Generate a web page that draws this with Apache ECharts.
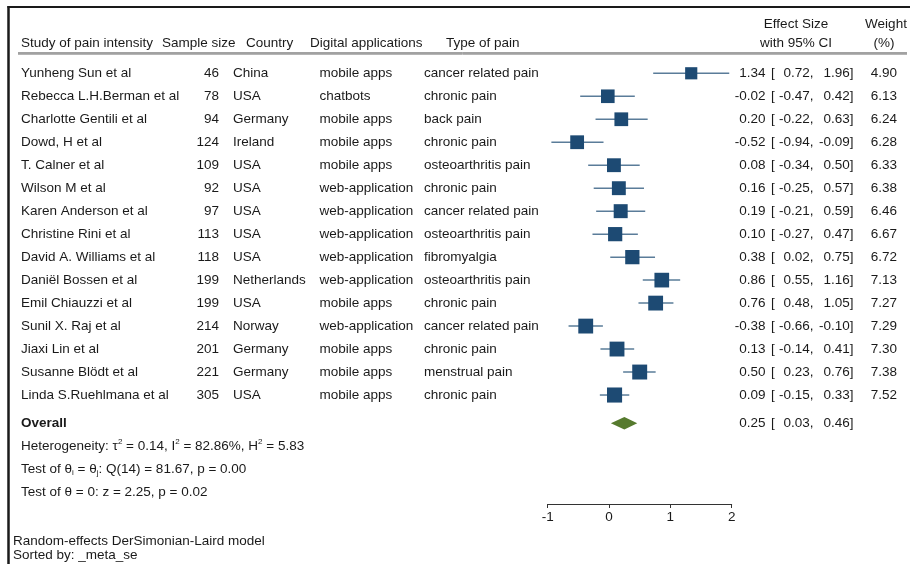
<!DOCTYPE html>
<html><head><meta charset="utf-8">
<script src="https://cdn.jsdelivr.net/npm/echarts@6/dist/echarts.min.js"></script>
<style>html,body{margin:0;padding:0;background:#fff}#c{width:910px;height:564px}</style>
</head><body><div id="c"></div>
<script>
// ---------- data ----------
const studies = ['Yunheng Sun et al','Rebecca L.H.Berman et al','Charlotte Gentili et al','Dowd, H et al','T. Calner et al','Wilson M et al','Karen Anderson et al','Christine Rini et al','David A. Williams et al','Daniël Bossen et al','Emil Chiauzzi et al','Sunil X. Raj et al','Jiaxi Lin et al','Susanne Blödt et al','Linda S.Ruehlmana et al'];
const sampleSizes = [46,78,94,124,109,92,97,113,118,199,199,214,201,221,305];
const countries = ['China','USA','Germany','Ireland','USA','USA','USA','USA','USA','Netherlands','USA','Norway','Germany','Germany','USA'];
const apps = ['mobile apps','chatbots','mobile apps','mobile apps','mobile apps','web-application','web-application','web-application','web-application','web-application','mobile apps','web-application','mobile apps','mobile apps','mobile apps'];
const painTypes = ['cancer related pain','chronic pain','back pain','chronic pain','osteoarthritis pain','chronic pain','cancer related pain','osteoarthritis pain','fibromyalgia','osteoarthritis pain','chronic pain','cancer related pain','chronic pain','menstrual pain','chronic pain'];
const effects = [1.34,-0.02,0.20,-0.52,0.08,0.16,0.19,0.10,0.38,0.86,0.76,-0.38,0.13,0.50,0.09];
const lowers  = [0.72,-0.47,-0.22,-0.94,-0.34,-0.25,-0.21,-0.27,0.02,0.55,0.48,-0.66,-0.14,0.23,-0.15];
const uppers  = [1.96,0.42,0.63,-0.09,0.50,0.57,0.59,0.47,0.75,1.16,1.05,-0.10,0.41,0.76,0.33];
const weights = [4.90,6.13,6.24,6.28,6.33,6.38,6.46,6.67,6.72,7.13,7.27,7.29,7.30,7.38,7.52];
const overallEst = 0.25, overallLow = 0.03, overallHigh = 0.46;
const xTicks = [-1, 0, 1, 2];
const headers = ['Study of pain intensity','Sample size','Country','Digital applications','Type of pain'];
const hetText = {tau2:'0.14', i2:'82.86%', h2:'5.83'};
const qText = {df:14, q:'81.67', p:'0.00'};
const zText = {z:'2.25', p:'0.02'};
const modelNote = 'Random-effects DerSimonian-Laird model';
const sortNote = 'Sorted by: _meta_se';

// ---------- layout / style ----------
const FONT = '"Liberation Sans", Arial, Helvetica, sans-serif';
const FS = 13.5;
const TXT = '#1a1a1a';
const SQ = '#1d4a73', CI = '#5a7c99', DIA = '#567a2e';
const OVERALL_ROW = 16.23;
const FOOT_ROWS = [17.23, 18.23, 19.24];
const COL = {name:21, size:219, country:233, app:319.5, pain:424, est:765.5, br:771, low:813.5, up:853.5, w:897};

const fmt = v => v.toFixed(2);
function t(x, y, text, align, extra) {
  return {type:'text', style:Object.assign({x, y, text, fill:TXT, font: FS + 'px ' + FONT, align:align||'left', verticalAlign:'middle'}, extra||{})};
}
function ciTexts(y, e, lo, hi) {
  return [t(COL.est, y, fmt(e), 'right'), t(COL.br, y, '[', 'left'), t(COL.low, y, fmt(lo) + ',', 'right'), t(COL.up, y, fmt(hi) + ']', 'right')];
}

const forestData = effects.map((e, i) => [e, i + 1, lowers[i], uppers[i], weights[i]]);

const chart = echarts.init(document.getElementById('c'));
const option = {
  animation:false,
  backgroundColor:'#fff',
  grid:{left:547.7, right:178.3, top:50.3, bottom:60},
  xAxis:{type:'value', position:'bottom', min:xTicks[0], max:xTicks[xTicks.length-1], interval:1,
    axisLine:{show:true, onZero:false, lineStyle:{color:'#333', width:1}},
    axisTick:{show:true, length:4, lineStyle:{color:'#333'}},
    axisLabel:{fontSize:FS, color:TXT, fontFamily:FONT, margin:6},
    splitLine:{show:false}},
  yAxis:{type:'value', inverse:true, min:0, max:19.742, show:false},
  series:[
    { // study rows: CI line, square, table text
      type:'custom', encode:{x:0, y:1}, data:forestData, clip:false,
      renderItem(params, api){
        const i = params.dataIndex;
        const row = api.value(1);
        const pe = api.coord([api.value(0), row]);
        const pl = api.coord([api.value(2), row]);
        const ph = api.coord([api.value(3), row]);
        const y = pe[1];
        const s = 5.5 * Math.sqrt(api.value(4));
        const children = [
          {type:'line', shape:{x1:pl[0], y1:y, x2:ph[0], y2:y}, style:{stroke:CI, lineWidth:1.5}},
          {type:'rect', shape:{x:pe[0]-s/2, y:y-s/2, width:s, height:s}, style:{fill:SQ}},
          t(COL.name, y, studies[i]),
          t(COL.size, y, String(sampleSizes[i]), 'right'),
          t(COL.country, y, countries[i]),
          t(COL.app, y, apps[i]),
          t(COL.pain, y, painTypes[i]),
          t(COL.w, y, weights[i].toFixed(2), 'right')
        ].concat(ciTexts(y, effects[i], lowers[i], uppers[i]));
        return {type:'group', children};
      }
    },
    { // overall diamond
      type:'custom', encode:{x:0, y:1}, data:[[overallEst, OVERALL_ROW, overallLow, overallHigh]], clip:false,
      renderItem(params, api){
        const row = api.value(1);
        const pe = api.coord([api.value(0), row]);
        const pl = api.coord([api.value(2), row]);
        const ph = api.coord([api.value(3), row]);
        const y = pe[1], h = 6.3;
        return {type:'group', children:[
          {type:'polygon', shape:{points:[[pl[0], y],[pe[0], y-h],[ph[0], y],[pe[0], y+h]]}, style:{fill:DIA}},
          t(COL.name, y, 'Overall', 'left', {font:'bold ' + FS + 'px ' + FONT})
        ].concat(ciTexts(y, overallEst, overallLow, overallHigh))};
      }
    },
    { // footer statistics
      type:'custom', encode:{x:0, y:1}, data:FOOT_ROWS.map(r => [0, r]), clip:false,
      renderItem(params, api){
        const y = api.coord([0, api.value(1)])[1];
        const rich = {
          a:{fontSize:FS, fontFamily:FONT, fill:TXT, verticalAlign:'middle', lineHeight:16},
          p:{fontSize:8, fontFamily:FONT, fill:TXT, verticalAlign:'top', lineHeight:16},
          b:{fontSize:8, fontFamily:FONT, fill:TXT, verticalAlign:'bottom', lineHeight:16}
        };
        let txt;
        if (params.dataIndex === 0) {
          txt = '{a|Heterogeneity: τ}{p|2}{a| = ' + hetText.tau2 + ', I}{p|2}{a| = ' + hetText.i2 + ', H}{p|2}{a| = ' + hetText.h2 + '}';
        } else if (params.dataIndex === 1) {
          txt = '{a|Test of θ}{b|i}{a| = θ}{b|j}{a|: Q(' + qText.df + ') = ' + qText.q + ', p = ' + qText.p + '}';
        } else {
          txt = '{a|Test of θ = 0: z = ' + zText.z + ', p = ' + zText.p + '}';
        }
        return {type:'text', style:{x:COL.name, y, text:txt, rich, align:'left', verticalAlign:'middle', fill:TXT, font:FS + 'px ' + FONT}};
      }
    }
  ],
  graphic:[
    {type:'line', shape:{x1:8.5, y1:6, x2:8.5, y2:564}, style:{stroke:'#1a1a1a', lineWidth:2.5}},
    {type:'line', shape:{x1:7.5, y1:7, x2:910, y2:7}, style:{stroke:'#1a1a1a', lineWidth:2}},
    {type:'line', shape:{x1:18, y1:53, x2:907, y2:53}, style:{stroke:'#444', lineWidth:1}},
    {type:'line', shape:{x1:18, y1:54.5, x2:907, y2:54.5}, style:{stroke:'#b5b5b5', lineWidth:1}},
    {type:'text', x:21, y:43, style:{text:headers[0], fill:TXT, font:FS+'px '+FONT, verticalAlign:'middle'}},
    {type:'text', x:162, y:43, style:{text:headers[1], fill:TXT, font:FS+'px '+FONT, verticalAlign:'middle'}},
    {type:'text', x:246, y:43, style:{text:headers[2], fill:TXT, font:FS+'px '+FONT, verticalAlign:'middle'}},
    {type:'text', x:310, y:43, style:{text:headers[3], fill:TXT, font:FS+'px '+FONT, verticalAlign:'middle'}},
    {type:'text', x:446, y:43, style:{text:headers[4], fill:TXT, font:FS+'px '+FONT, verticalAlign:'middle'}},
    {type:'text', x:796, y:24.5, style:{text:'Effect Size', fill:TXT, font:FS+'px '+FONT, align:'center', verticalAlign:'middle'}},
    {type:'text', x:796, y:43, style:{text:'with 95% CI', fill:TXT, font:FS+'px '+FONT, align:'center', verticalAlign:'middle'}},
    {type:'text', x:886, y:24.5, style:{text:'Weight', fill:TXT, font:FS+'px '+FONT, align:'center', verticalAlign:'middle'}},
    {type:'text', x:884, y:43, style:{text:'(%)', fill:TXT, font:FS+'px '+FONT, align:'center', verticalAlign:'middle'}},
    {type:'text', x:13, y:541, style:{text:modelNote, fill:TXT, font:'13.5px '+FONT, verticalAlign:'middle'}},
    {type:'text', x:13, y:555, style:{text:sortNote, fill:TXT, font:'13.5px '+FONT, verticalAlign:'middle'}}
  ]
};
chart.setOption(option);
</script>
</body></html>
